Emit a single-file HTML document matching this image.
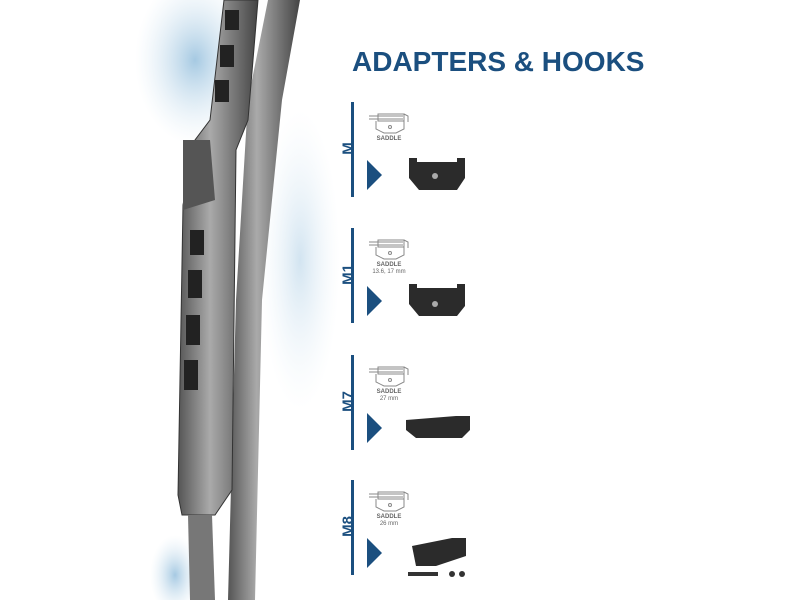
<!DOCTYPE html><html><head><style>
body{margin:0;width:800px;height:600px;background:#fff;position:relative;overflow:hidden;font-family:"Liberation Sans",sans-serif}
.t{position:absolute;left:352px;top:46px;font-size:28px;font-weight:bold;color:#1b4f7f;letter-spacing:0px;transform:scaleX(1.0);transform-origin:left}
.sec{position:absolute;left:340px;width:160px;height:95px}
.vl{position:absolute;left:11px;top:0;width:3px;height:100%;background:#1b4f7f}
.lb{position:absolute;left:-12px;top:38px;width:40px;text-align:center;transform:rotate(-90deg);font-weight:bold;font-size:15px;color:#1b4f7f}
.tri{position:absolute;left:27px;top:58px;width:0;height:0;border-top:15px solid transparent;border-bottom:15px solid transparent;border-left:15px solid #1b4f7f}
.sad{position:absolute;left:26px;top:34px;font-size:6px;color:#666;text-align:center;width:46px;line-height:7px}
.sad b{display:block;font-size:6px}
.ic{position:absolute;left:28px;top:8px}
</style></head><body>
<svg width="800" height="600" style="position:absolute;left:0;top:0">
<defs><linearGradient id="g" x1="0" x2="1"><stop offset="0" stop-color="#555"/><stop offset=".4" stop-color="#aaa"/><stop offset="1" stop-color="#444"/></linearGradient>
<radialGradient id="w" cx=".5" cy=".5" r=".5"><stop offset="0" stop-color="#7fb2d6" stop-opacity=".7"/><stop offset="1" stop-color="#cfe3f0" stop-opacity="0"/></radialGradient></defs>
<ellipse cx="195" cy="60" rx="60" ry="85" fill="url(#w)"/>
<ellipse cx="300" cy="260" rx="40" ry="150" fill="url(#w)" opacity=".5"/>
<ellipse cx="175" cy="575" rx="25" ry="40" fill="url(#w)"/>
<polygon points="268,0 300,0 282,100 262,300 255,600 228,600 236,300 248,100" fill="url(#g)"/>
<polygon points="224,0 258,0 248,120 236,150 232,490 215,515 182,515 178,495 183,205 195,140 210,120" fill="url(#g)" stroke="#333"/>
<polygon points="183,140 210,140 215,200 183,210" fill="#555"/>
<polygon points="188,515 212,515 215,600 190,600" fill="#777"/>
<g fill="#222">
<rect x="225" y="10" width="14" height="20"/><rect x="220" y="45" width="14" height="22"/><rect x="215" y="80" width="14" height="22"/>
<rect x="190" y="230" width="14" height="25"/><rect x="188" y="270" width="14" height="28"/><rect x="186" y="315" width="14" height="30"/><rect x="184" y="360" width="14" height="30"/></g>
</svg>
<div class="t">ADAPTERS &amp; HOOKS</div>
<svg width="0" height="0" style="position:absolute"><symbol id="s" viewBox="0 0 44 26"><g fill="none" stroke="#888" stroke-width="1"><path d="M1 6h34M1 9h34"/><rect x="10" y="4" width="26" height="7"/><path d="M36 4l4 2v6M8 11v8l8 4h12l8-4v-8"/><circle cx="22" cy="17" r="1.5"/></g></symbol></svg>
<div class="sec" style="top:102px"><div class="vl"></div><div class="lb">M</div><div class="tri"></div><svg class="ic" width="44" height="26"><use href="#s"/></svg><div class="sad"><b>SADDLE</b></div>
<svg style="position:absolute;left:65px;top:50px" width="70" height="40"><path d="M4 6h8v4h40v-4h8v20l-8 12H14L4 26z" fill="#2b2b2b"/><circle cx="30" cy="24" r="3" fill="#aaa"/></svg></div>
<div class="sec" style="top:228px"><div class="vl"></div><div class="lb">M1</div><div class="tri"></div><svg class="ic" width="44" height="26"><use href="#s"/></svg><div class="sad"><b>SADDLE</b>13.6, 17 mm</div>
<svg style="position:absolute;left:65px;top:48px" width="70" height="42"><path d="M4 8h8v4h40v-4h8v22l-8 10H14L4 28z" fill="#2b2b2b"/><circle cx="30" cy="28" r="3" fill="#aaa"/></svg></div>
<div class="sec" style="top:355px"><div class="vl"></div><div class="lb">M7</div><div class="tri"></div><svg class="ic" width="44" height="26"><use href="#s"/></svg><div class="sad"><b>SADDLE</b>27 mm</div>
<svg style="position:absolute;left:62px;top:55px" width="75" height="35"><path d="M4 10l50-4h14v14l-8 8H14l-10-8z" fill="#2b2b2b"/></svg></div>
<div class="sec" style="top:480px"><div class="vl"></div><div class="lb">M8</div><div class="tri"></div><svg class="ic" width="44" height="26"><use href="#s"/></svg><div class="sad"><b>SADDLE</b>26 mm</div>
<svg style="position:absolute;left:62px;top:52px" width="75" height="48"><path d="M10 14l40-8h14v18l-30 10H14z" fill="#2b2b2b"/><rect x="6" y="40" width="30" height="4" fill="#333"/><circle cx="50" cy="42" r="3" fill="#333"/><circle cx="60" cy="42" r="3" fill="#333"/></svg></div>
</body></html>
